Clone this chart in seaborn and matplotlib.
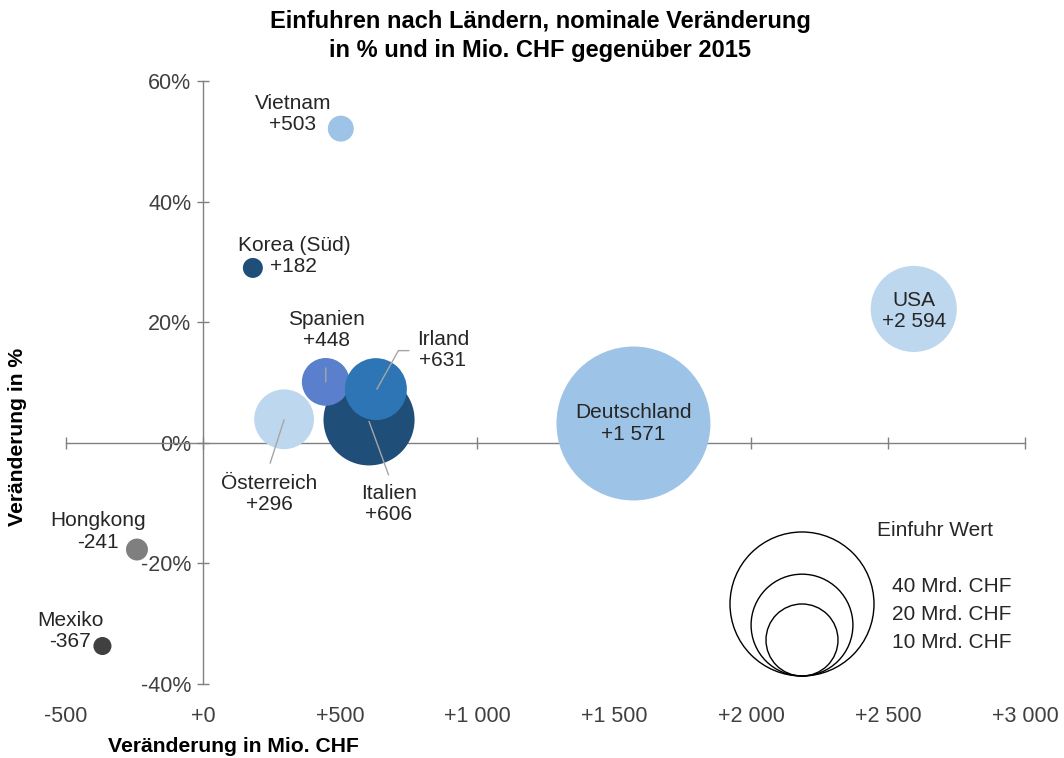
import numpy as np
import pandas as pd
import matplotlib
matplotlib.use("Agg")
import matplotlib.pyplot as plt
import matplotlib.transforms as mtransforms
import seaborn as sns

# ---- data ----
countries = ["Österreich", "Italien", "Spanien", "Irland", "Deutschland",
             "USA", "Vietnam", "Korea (Süd)", "Hongkong", "Mexiko"]
change_chf = [296, 606, 448, 631, 1571, 2594, 503, 182, -241, -367]
change_pct = [3.9, 3.8, 10.1, 8.9, 3.2, 22.2, 52.1, 29.0, -17.7, -33.7]
import_value = [6.9, 16.0, 4.4, 7.4, 45.7, 14.3, 1.3, 0.77, 0.93, 0.63]  # Mrd. CHF
change_labels = ["+296", "+606", "+448", "+631", "+1 571", "+2 594", "+503",
                 "+182", "-241", "-367"]
colors = ["#BDD7EE", "#1F4E79", "#5A7FCC", "#2E75B6", "#9DC3E6",
          "#BDD7EE", "#9DC3E6", "#1F4E79", "#7F7F7F", "#404040"]

x_ticks = [-500, 0, 500, 1000, 1500, 2000, 2500, 3000]
x_tick_labels = ["-500", "+0", "+500", "+1 000", "+1 500", "+2 000", "+2 500", "+3 000"]
y_ticks = [-40, -20, 0, 20, 40, 60]
y_tick_labels = ["-40%", "-20%", "0%", "20%", "40%", "60%"]

legend_values = [40, 20, 10]
legend_labels = ["40 Mrd. CHF", "20 Mrd. CHF", "10 Mrd. CHF"]

df = pd.DataFrame({"country": countries, "chf": change_chf,
                   "pct": change_pct, "value": import_value})

# ---- style ----
sns.set_theme(style="white")
plt.rcParams["font.family"] = ["Liberation Sans", "DejaVu Sans"]
TXT = "#262626"
AX = "#808080"
FS = 15
FS_TICK = 15.5

W, H = 1064, 758
fig = plt.figure(figsize=(W / 100, H / 100), dpi=100)
ax = fig.add_axes([66 / W, 1 - 684 / H, 959 / W, 603 / H])

AREA_PER_MRD = 268.8  # points^2 per Mrd. CHF
sns.scatterplot(data=df, x="chf", y="pct", hue="country",
                palette=dict(zip(countries, colors)),
                size="value", sizes=(0, AREA_PER_MRD * 50), size_norm=(0, 50),
                legend=False, linewidth=0, alpha=1, ax=ax, zorder=2)

ax.set_xlim(-500, 3000)
ax.set_ylim(-40, 60)
ax.set_xlabel("")
ax.set_ylabel("")

# axes through origin
for s in ["top", "right"]:
    ax.spines[s].set_visible(False)
ax.spines["left"].set_position(("data", 0))
ax.spines["bottom"].set_position(("data", 0))
for s in ["left", "bottom"]:
    ax.spines[s].set_color(AX)
    ax.spines[s].set_linewidth(1.0)
    ax.spines[s].set_zorder(1)

ax.set_yticks(y_ticks)
ax.set_yticklabels(y_tick_labels)
ax.tick_params(axis="y", direction="inout", length=9, width=1, color=AX,
               labelsize=FS_TICK, labelcolor="#404040", pad=4, left=True)
ax.set_xticks(x_ticks)
ax.tick_params(axis="x", direction="inout", length=9, width=1, color=AX,
               labelbottom=False, bottom=True)

sec = ax.secondary_xaxis("bottom")
sec.set_xticks(x_ticks)
sec.set_xticklabels(x_tick_labels)
sec.spines["bottom"].set_visible(False)
sec.tick_params(axis="x", length=0, labelsize=FS_TICK, labelcolor="#404040", pad=16)


def off(dx, dy):
    return ax.transData + mtransforms.ScaledTranslation(dx / 100, dy / 100, fig.dpi_scale_trans)


# labels: offsets in pixels relative to bubble centre
label_offsets = {
    "Vietnam": (-48, 15), "Korea (Süd)": (41, 12), "Spanien": (1, 52),
    "Irland": (67, 39), "Italien": (20, -84), "Österreich": (-15, -75),
    "Deutschland": (0, 0), "USA": (0, -2), "Hongkong": (-39, 18),
    "Mexiko": (-32, 15),
}
for c, x, y, lab in zip(countries, change_chf, change_pct, change_labels):
    dx, dy = label_offsets[c]
    ax.annotate(f"{c}\n{lab}", xy=(x, y), xytext=(dx, dy),
                textcoords="offset pixels", ha="center", va="center",
                multialignment="center", fontsize=FS, color=TXT,
                linespacing=1.15, zorder=5)

# leader lines (pixel offsets from bubble centre)
leaders = {
    "Spanien": [(0, 14), (0, 0)],
    "Irland": [(33, 38.5), (22.5, 38.5), (1, 0)],
    "Italien": [(0, -1.5), (19.5, -55)],
    "Österreich": [(0, -0.5), (-14, -44)],
}
idx = {c: i for i, c in enumerate(countries)}
for c, pts in leaders.items():
    x, y = change_chf[idx[c]], change_pct[idx[c]]
    for (a, b), (p, q) in zip(pts[:-1], pts[1:]):
        ax.annotate("", xy=(x, y), xycoords=off(p, q), xytext=(x, y),
                    textcoords=off(a, b),
                    arrowprops=dict(arrowstyle="-", color="#A6A6A6", lw=1.0,
                                    shrinkA=0, shrinkB=0), zorder=4)

# size legend
cx, bottom_px = 802, 676
for v in legend_values:
    s = AREA_PER_MRD * v
    r_px = np.sqrt(s) / 0.72 / 2
    ax.scatter([cx / W], [1 - (bottom_px - r_px) / H], s=s, facecolors="none",
               edgecolors="black", linewidths=1.0, transform=fig.transFigure,
               clip_on=False, zorder=3)
fig.text(877 / W, 1 - 531 / H, "Einfuhr Wert", fontsize=FS, color=TXT,
         ha="left", va="center")
for lab, ypx in zip(legend_labels, [587, 614, 642]):
    fig.text(892 / W, 1 - ypx / H, lab, fontsize=FS, color=TXT,
             ha="left", va="center")

# titles
fig.text(540 / W, 1 - 36 / H,
         "Einfuhren nach Ländern, nominale Veränderung\nin % und in Mio. CHF gegenüber 2015",
         fontsize=17, fontweight="bold", color="black", ha="center",
         va="center", linespacing=1.3)
fig.text(233 / W, 1 - 746 / H, "Veränderung in Mio. CHF", fontsize=15.2,
         fontweight="bold", color="black", ha="center", va="center")
fig.text(18 / W, 1 - 437 / H, "Veränderung in %", fontsize=15.2,
         fontweight="bold", color="black", ha="center", va="center",
         rotation=90)

fig.savefig("out.png", dpi=100)
